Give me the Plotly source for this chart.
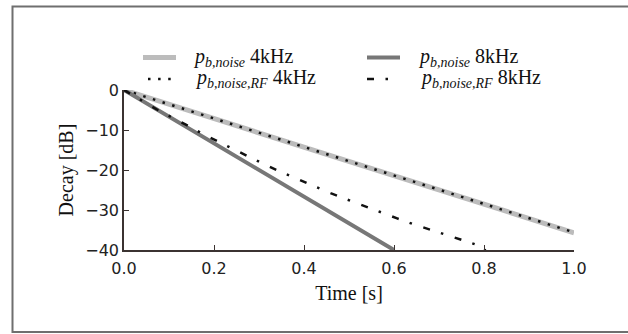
import plotly.graph_objects as go

# ---- data ----
t_4k = [0.0, 1.0]
noise_4k = [0.0, -35.7]
t_rf_4k = [0.0, 1.0]
rf_4k = [0.0, -35.6]
t_8k = [0.0, 0.6]
noise_8k = [0.0, -40.0]
t_rf_8k = [0.0, 0.042, 0.075, 0.107, 0.142, 0.175, 0.211, 0.246, 0.281, 0.316, 0.351,
           0.388, 0.424, 0.459, 0.496, 0.533, 0.570, 0.607, 0.642, 0.681, 0.718, 0.755,
           0.791, 0.800, 0.803, 0.830]
rf_8k = [0.0, -2.8, -5.0, -6.9, -8.9, -11.0, -13.0, -15.0, -16.9, -18.8, -20.6,
         -22.4, -24.1, -25.8, -27.4, -29.0, -30.6, -32.1, -33.5, -34.9, -36.3, -37.7,
         -39.0, -39.3, -40.3, -40.4]
x_ticks = [0.0, 0.2, 0.4, 0.6, 0.8, 1.0]
y_ticks = [0, -10, -20, -30, -40]
labels = ["<i>p</i><sub><i>b,noise</i></sub> 4kHz",
          "<i>p</i><sub><i>b,noise</i></sub> 8kHz",
          "<i>p</i><sub><i>b,noise,RF</i></sub> 4kHz",
          "<i>p</i><sub><i>b,noise,RF</i></sub> 8kHz"]

LIGHT = "#bcbcbc"
DARK = "#777777"
BLACK = "#111111"
AXC = "#3b3331"
SERIF = "Liberation Serif"

fig = go.Figure()
fig.add_trace(go.Scatter(x=t_4k, y=noise_4k, mode="lines", name=labels[0],
                         line=dict(color=LIGHT, width=5), showlegend=False))
fig.add_trace(go.Scatter(x=t_rf_4k, y=rf_4k, mode="lines", name=labels[2],
                         line=dict(color=BLACK, width=2.5, dash="2.5px,7.6px"), showlegend=False))
fig.add_trace(go.Scatter(x=t_8k, y=noise_8k, mode="lines", name=labels[1],
                         line=dict(color=DARK, width=4), showlegend=False))
fig.add_trace(go.Scatter(x=t_rf_8k, y=rf_8k, mode="lines", name=labels[3],
                         line=dict(color=BLACK, width=2.5, dash="7px,11.5px,2.5px,12px"),
                         showlegend=False))

# manual legend (pixel layout: plot area x 124..574, y 90..250)
def px_x(p):
    return (p - 124) / 450.0

def px_y(p):
    return (250 - p) / 160.0

legend_items = [
    (143, 176, 57.5, 191, LIGHT, 5, "solid", labels[0]),
    (367, 400, 57.5, 416, DARK, 4, "solid", labels[1]),
    (148, 172, 79, 193, BLACK, 2.5, "2.5px,7.6px", labels[2]),
    (367, 400, 79, 418, BLACK, 2.5, "7px,11.5px,2.5px,12px", labels[3]),
]
for x0, x1, yy, tx, col, w, dash, lab in legend_items:
    fig.add_shape(type="line", xref="paper", yref="paper",
                  x0=px_x(x0), x1=px_x(x1), y0=px_y(yy), y1=px_y(yy),
                  line=dict(color=col, width=w, dash=dash))
    fig.add_annotation(xref="paper", yref="paper", x=px_x(tx), y=px_y(yy),
                       xanchor="left", yanchor="middle", showarrow=False, text=lab,
                       font=dict(family=SERIF, size=20, color="#111111"))

# outer border
fig.add_shape(type="rect", xref="paper", yref="paper",
              x0=px_x(12.5), x1=px_x(640), y0=px_y(332), y1=px_y(6.5),
              line=dict(color="#6f6f6f", width=2), fillcolor="rgba(0,0,0,0)", layer="below")

fig.update_layout(
    width=628, height=334,
    margin=dict(l=124, r=54, t=90, b=84),
    paper_bgcolor="white", plot_bgcolor="white",
    showlegend=False,
)
fig.update_xaxes(range=[0, 1.0], tickvals=x_ticks, tickformat=".1f",
                 showgrid=False, zeroline=False, showline=True, linecolor=AXC, linewidth=1.5,
                 ticks="inside", ticklen=5, tickcolor=AXC, tickwidth=1.2,
                 ticklabelstandoff=3,
                 tickfont=dict(family="DejaVu Sans", size=16, color="#222222"),
                 title=dict(text="Time [s]", font=dict(family=SERIF, size=20, color="#111111"),
                            standoff=9))
fig.update_yaxes(range=[-40, 0], tickvals=y_ticks,
                 showgrid=False, zeroline=False, showline=True, linecolor=AXC, linewidth=1.5,
                 ticks="inside", ticklen=5, tickcolor=AXC, tickwidth=1.2,
                 tickfont=dict(family="DejaVu Sans", size=16, color="#222222"),
                 title=dict(text="Decay [dB]", font=dict(family=SERIF, size=20, color="#111111"),
                            standoff=6))

fig.write_html("out.html")
